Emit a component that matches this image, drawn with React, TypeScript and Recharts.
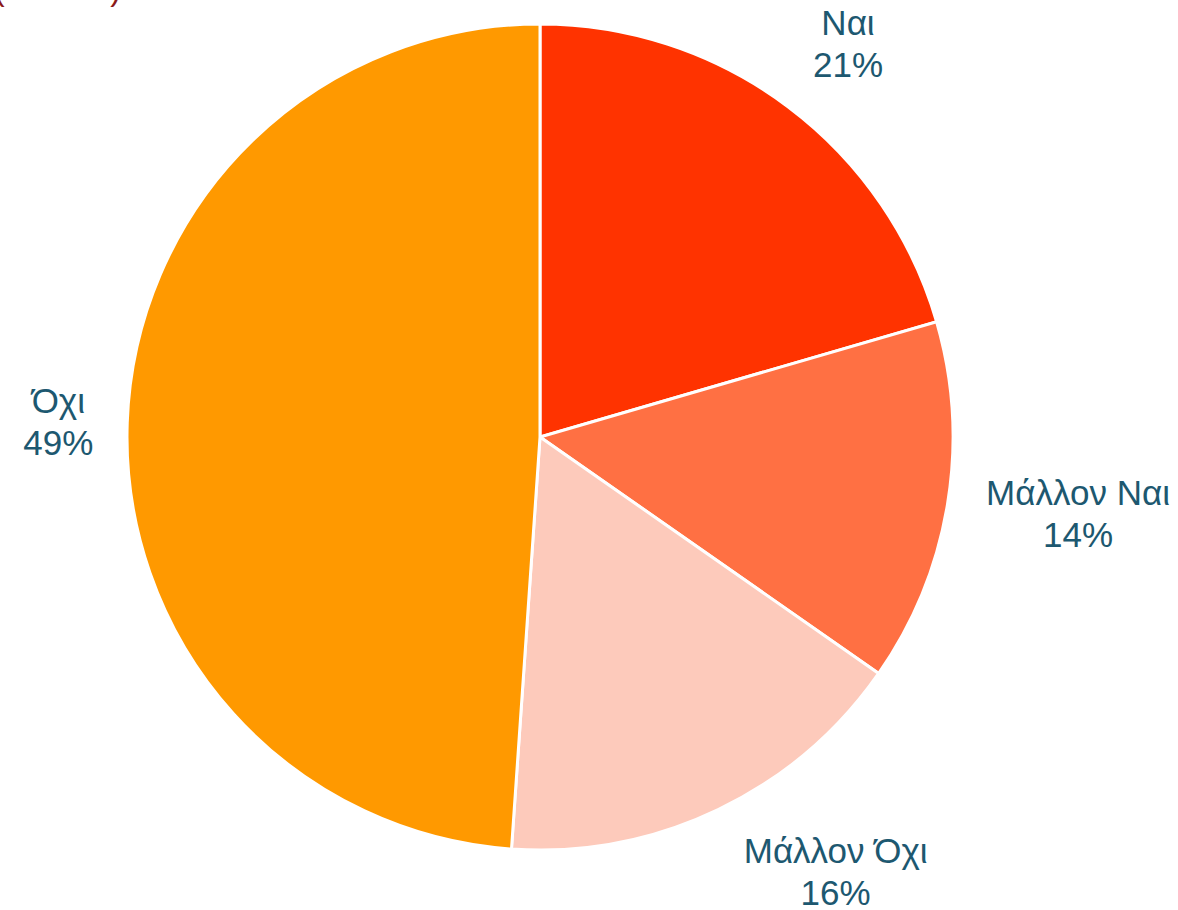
import React from 'react'
import { PieChart, Pie, Cell } from 'recharts'

const categories = ['Ναι', 'Μάλλον Ναι', 'Μάλλον Όχι', 'Όχι']
const shares = [20.5, 14.2, 16.4, 48.9]
const shareLabels = ['21%', '14%', '16%', '49%']
const colors = ['#FF3300', '#FF7043', '#FDCABB', '#FF9900']

const data = categories.map((name, i) => ({ name, value: shares[i], label: shareLabels[i] }))

const RADIAN = Math.PI / 180
const TEXT_COLOR = '#1d5870'

// small nudges so labels stay inside the frame, like the original
const nudges: Record<number, [number, number]> = {
  0: [-6, 24],
  1: [22, -9],
  2: [70, -38],
  3: [41, 2],
}

// eslint-disable-next-line @typescript-eslint/no-explicit-any
const renderLabel = (props: any) => {
  const { cx, cy, midAngle, outerRadius, index } = props
  const r = outerRadius + 110
  const [dx, dy] = nudges[index] || [0, 0]
  const x = cx + r * Math.cos(-midAngle * RADIAN) + dx
  const y = cy + r * Math.sin(-midAngle * RADIAN) + dy
  return (
    <text
      x={x}
      y={y}
      textAnchor="middle"
      fill={TEXT_COLOR}
      fontSize={35}
      fontFamily="'Liberation Sans', Arial, sans-serif"
    >
      <tspan x={x} dy={-8}>{data[index].name}</tspan>
      <tspan x={x} dy={42}>{data[index].label}</tspan>
    </text>
  )
}

export default function App() {
  return (
    <div style={{ position: 'absolute', left: 0, top: 0, width: 1178, height: 910, background: '#fff', overflow: 'hidden' }}>
      <div
        style={{
          position: 'absolute',
          left: -6,
          top: -29,
          width: 127,
          fontSize: 32,
          lineHeight: '36px',
          color: '#8b1a1a',
          fontFamily: "'Liberation Sans', Arial, sans-serif",
          display: 'flex',
          justifyContent: 'space-between',
        }}
      >
        <span>(</span>
        <span>)</span>
      </div>
      <PieChart width={1178} height={910} margin={{ top: 0, right: 0, bottom: 0, left: 0 }}>
        <Pie
          data={data}
          dataKey="value"
          nameKey="name"
          cx={540}
          cy={437}
          outerRadius={413}
          startAngle={90}
          endAngle={-270}
          stroke="#ffffff"
          strokeWidth={3}
          label={renderLabel}
          labelLine={false}
          isAnimationActive={false}
        >
          {data.map((d, i) => (
            <Cell key={d.name} fill={colors[i]} />
          ))}
        </Pie>
      </PieChart>
    </div>
  )
}
